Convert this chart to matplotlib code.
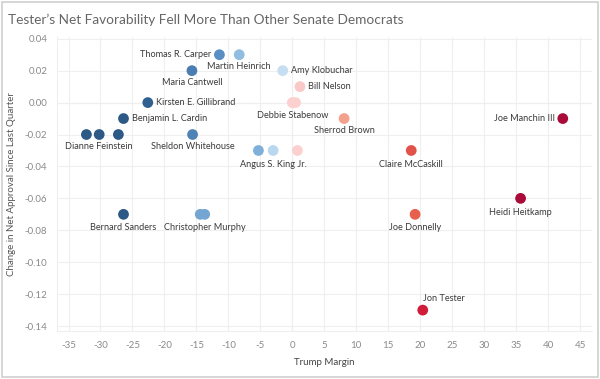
import numpy as np
import matplotlib
matplotlib.use("Agg")
import matplotlib.pyplot as plt
from matplotlib.patches import Rectangle

plt.rcParams['font.family'] = ['Lato', 'DejaVu Sans']

# data (Trump margin vs change in net approval)
SENATORS = ["", "Dianne Feinstein", "", "Benjamin L. Cardin", "Bernard Sanders",
            "Kirsten E. Gillibrand", "Maria Cantwell", "Sheldon Whitehouse",
            "", "Christopher Murphy", "Thomas R. Carper", "Martin Heinrich",
            "", "Angus S. King Jr.", "Amy Klobuchar", "", "Debbie Stabenow",
            "", "Bill Nelson", "Sherrod Brown", "Claire McCaskill",
            "Joe Donnelly", "Jon Tester", "Heidi Heitkamp", "Joe Manchin III"]
TRUMP_MARGIN = [-32.2, -30.2, -27.2, -26.4, -26.4, -22.6, -15.7, -15.6,
                -14.4, -13.7, -11.4, -8.3, -5.3, -3.0, -1.5, 0.0, 0.5,
                0.8, 1.2, 8.1, 18.6, 19.2, 20.4, 35.7, 42.3]
NET_CHANGE = [-0.02, -0.02, -0.02, -0.01, -0.07, 0.00, 0.02, -0.02,
              -0.07, -0.07, 0.03, 0.03, -0.03, -0.03, 0.02, 0.00, 0.00,
              -0.03, 0.01, -0.01, -0.03, -0.07, -0.13, -0.06, -0.01]

COLORS = ["#2c5985", "#2c5985", "#2c5985", "#2c5985", "#2c5985", "#30608f",
          "#4a7eb2", "#4f83b6", "#74a6d1", "#74a6d1", "#5a8fc3", "#90bde0",
          "#7fb0da", "#b9d7ee", "#c5def1", "#fbd0ce", "#fbd0ce", "#fbd0ce",
          "#fac8c6", "#f4a08c", "#e0524a", "#e95f4e", "#d01c38", "#a90c38",
          "#a90c38"]

XTICKS = np.arange(-35, 50, 5)
YTICKS = np.round(np.arange(-0.14, 0.05, 0.02), 2)

# label placement: (dx px, dy px, ha, va)
PLACE = {
    "Dianne Feinstein": (0, -12, "center", "center"),
    "Benjamin L. Cardin": (8, 0, "left", "center"),
    "Bernard Sanders": (0, -13, "center", "center"),
    "Kirsten E. Gillibrand": (8, 0, "left", "center"),
    "Maria Cantwell": (0, -12, "center", "center"),
    "Sheldon Whitehouse": (0, -12, "center", "center"),
    "Christopher Murphy": (0, -13, "center", "center"),
    "Thomas R. Carper": (-8, 0, "right", "center"),
    "Martin Heinrich": (0, -12, "center", "center"),
    "Angus S. King Jr.": (0, -14, "center", "center"),
    "Amy Klobuchar": (8, 0, "left", "center"),
    "Debbie Stabenow": (-3, -13, "center", "center"),
    "Bill Nelson": (8, 0, "left", "center"),
    "Sherrod Brown": (0, -12, "center", "center"),
    "Claire McCaskill": (0, -14, "center", "center"),
    "Joe Donnelly": (0, -13, "center", "center"),
    "Jon Tester": (0, 12, "left", "center"),
    "Heidi Heitkamp": (0, -14, "center", "center"),
    "Joe Manchin III": (-8, 0, "right", "center"),
}

fig = plt.figure(figsize=(6, 3.79), dpi=100)
fig.patches.append(Rectangle((0.003, 0.005), 0.994, 0.99, transform=fig.transFigure,
                             fill=False, edgecolor="#d0d0d0", lw=1.2))
ax = fig.add_axes([0.095, 0.127, 0.892, 0.775])

ax.scatter(TRUMP_MARGIN, NET_CHANGE, s=60, c=COLORS, linewidths=0, zorder=3)

px = 0.72  # pixel -> points
for name, x, y in zip(SENATORS, TRUMP_MARGIN, NET_CHANGE):
    if not name:
        continue
    dx, dy, ha, va = PLACE[name]
    ax.annotate(name, (x, y), xytext=(dx * px, dy * px), textcoords="offset points",
                ha=ha, va=va, fontsize=6.6, color="#3a3a3a", zorder=4)

ax.set_xlim(-36.8, 46.9)
ax.set_ylim(-0.143, 0.041)
ax.set_xticks(XTICKS)
ax.set_yticks(YTICKS)
ax.set_xticklabels([str(t) for t in XTICKS])
ax.set_yticklabels(["%.2f" % t for t in YTICKS])
ax.grid(True, color="#efefef", lw=0.8, zorder=0)
ax.axvline(0, color="#bdbdbd", lw=0.8, ls=(0, (1, 1.5)), zorder=1)
ax.axhline(0, color="#bdbdbd", lw=0.8, ls=(0, (1, 1.5)), zorder=1)
for s in ["top", "right"]:
    ax.spines[s].set_visible(False)
for s in ["left", "bottom"]:
    ax.spines[s].set_color("#eeeeee")
ax.tick_params(length=0, labelsize=7, labelcolor="#8a8a8a", pad=7)

ax.set_xlabel("Trump Margin", fontsize=7, color="#444444", labelpad=6)
ax.set_ylabel("Change in Net Approval Since Last Quarter", fontsize=7,
              color="#555555", labelpad=6)

fig.text(0.013, 0.948, "Tester\u2019s Net Favorability Fell More Than Other Senate Democrats",
         fontsize=9.8, color="#666666", va="center", ha="left")

fig.savefig("out.png", dpi=100)
